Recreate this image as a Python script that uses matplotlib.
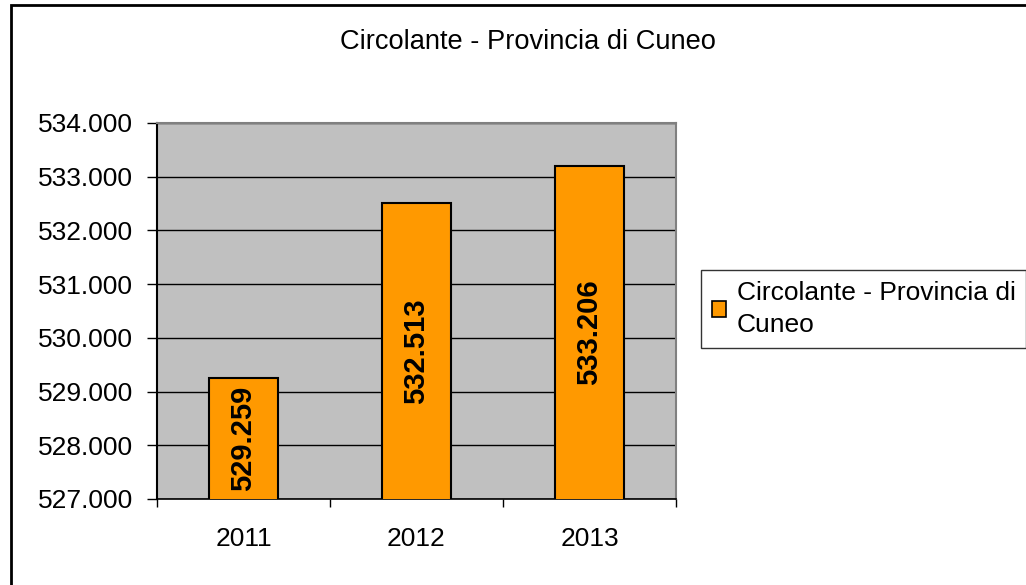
#!/usr/bin/env python3
"""Circolante - Provincia di Cuneo, bar chart."""
import matplotlib
matplotlib.use("Agg")
import matplotlib.pyplot as plt
from matplotlib.patches import Rectangle, Patch
from matplotlib.ticker import FuncFormatter, FixedLocator

plt.rcParams["font.family"] = ["Liberation Sans", "DejaVu Sans"]

YEARS = ["2011", "2012", "2013"]
VALUES = [529259, 532513, 533206]
SERIES = "Circolante - Provincia di Cuneo"
Y_MIN, Y_MAX = 527000, 534000

W, H = 1026, 585
fig = plt.figure(figsize=(W / 100, H / 100), dpi=100)

# outer chart frame (runs off the right/bottom edge like the original)
fig.patches.append(Rectangle((11 / W, -0.2), 2, 1 - 5 / H + 0.2, transform=fig.transFigure,
                             fill=False, ec="black", lw=2))

ax = fig.add_axes([157 / W, (H - 499) / H, (676 - 157) / W, (499 - 123) / H])
ax.set_facecolor("#C0C0C0")
x = range(len(YEARS))
ax.bar(x, VALUES, 0.4, color="#FF9900", edgecolor="black", lw=1.5, zorder=3)
for i, v in enumerate(VALUES):
    s = f"{v:,}".replace(",", ".")
    ax.text(i, (Y_MIN + v) / 2, s, rotation=90, ha="center", va="center",
            fontsize=21, fontweight="bold", zorder=4)

ax.set_ylim(Y_MIN, Y_MAX)
ax.set_xlim(-0.5, 2.5)
ax.set_yticks(range(Y_MIN, Y_MAX + 1, 1000))
ax.yaxis.set_major_formatter(FuncFormatter(lambda v, p: f"{int(v):,}".replace(",", ".")))
ax.yaxis.grid(True, color="black", lw=1)
ax.set_axisbelow(True)
ax.set_xticks(list(x))
ax.set_xticklabels(YEARS)
ax.xaxis.set_minor_locator(FixedLocator([-0.5, 0.5, 1.5, 2.5]))
ax.tick_params(axis="x", which="major", length=0, pad=20, labelsize=19)
ax.tick_params(axis="x", which="minor", length=6, width=1)
ax.tick_params(axis="y", length=7, width=1, labelsize=19, pad=10)
for side in ["top", "right"]:
    ax.spines[side].set_color("#808080")
    ax.spines[side].set_linewidth(1.5)
ax.spines["left"].set_linewidth(1.5)
ax.spines["bottom"].set_linewidth(1.2)

fig.text(528 / W, 1 - 42 / H, SERIES, ha="center", va="center", fontsize=19.6)

handle = Patch(facecolor="#FF9900", edgecolor="black", lw=1.2)
leg = fig.legend([handle], ["Circolante - Provincia di\nCuneo"], loc="upper left",
                 bbox_to_anchor=(701 / W, 1 - 270 / H), fontsize=19, frameon=True,
                 fancybox=False, borderaxespad=0, borderpad=0.4, handlelength=0.55,
                 handleheight=0.55, handletextpad=0.4)
for t in leg.get_texts():
    t.set_linespacing(1.45)
leg.get_frame().set_edgecolor("black")
leg.get_frame().set_linewidth(1)

fig.savefig("out.png", dpi=100)
